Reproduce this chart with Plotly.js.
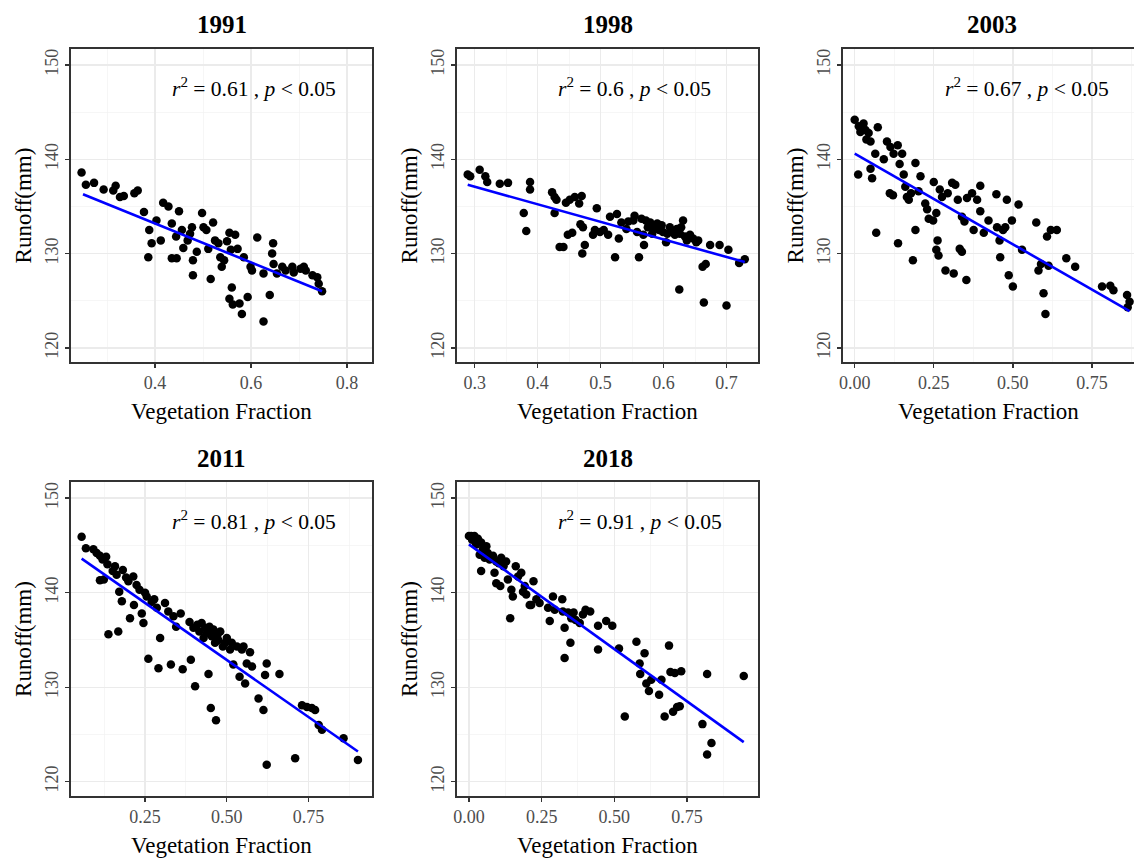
<!DOCTYPE html>
<html>
<head>
<meta charset="utf-8">
<script src="https://cdn.plot.ly/plotly-3.0.1.min.js"></script>
<style>html,body{margin:0;padding:0;background:#fff;}#chart{width:1134px;height:858px;}</style>
</head>
<body>
<div id="chart"></div>
<script>
// ---------- DATA ----------
const years = ['1991', '1998', '2003', '2011', '2018'];
const r2Values = ['0.61', '0.6', '0.67', '0.81', '0.91'];

const veg1991 = [0.247,0.256,0.273,0.293,0.313,0.318,0.327,0.335,0.357,0.364,
  0.377,0.388,0.386,0.393,0.403,0.412,0.417,0.428,0.435,0.435,
  0.445,0.450,0.444,0.456,0.459,0.468,0.473,0.477,0.479,0.479,
  0.487,0.498,0.501,0.507,0.511,0.516,0.521,0.525,0.532,0.536,
  0.539,0.544,0.550,0.555,0.558,0.560,0.555,0.562,0.567,0.572,
  0.576,0.581,0.585,0.593,0.599,0.602,0.613,0.626,0.626,0.639,
  0.644,0.646,0.647,0.654,0.665,0.672,0.686,0.689,0.703,0.710,
  0.714,0.728,0.738,0.741,0.748];
const runoff1991 = [138.6,137.3,137.5,136.8,136.7,137.2,136.0,136.1,136.4,136.7,
  134.4,132.5,129.6,131.1,133.5,131.4,135.4,135.0,133.2,129.5,
  129.5,134.5,131.8,132.5,130.6,131.4,132.1,132.8,129.3,127.7,
  130.2,134.3,132.8,132.5,130.5,127.3,133.3,131.4,131.1,129.6,
  128.6,129.3,131.3,132.2,130.4,126.4,125.2,124.6,132.0,130.5,
  124.7,123.6,129.6,125.4,128.6,128.2,131.7,127.9,122.8,125.6,
  130.0,131.1,128.9,127.9,128.6,128.2,128.6,128.0,128.4,128.6,
  128.2,127.7,127.5,126.8,126.0];

const veg1998 = [0.289,0.293,0.308,0.317,0.320,0.340,0.353,0.378,0.382,0.388,
  0.388,0.423,0.427,0.427,0.430,0.435,0.441,0.445,0.448,0.451,
  0.455,0.459,0.466,0.468,0.470,0.471,0.475,0.472,0.488,0.491,
  0.494,0.499,0.505,0.512,0.515,0.523,0.526,0.529,0.533,0.541,
  0.544,0.552,0.554,0.558,0.561,0.565,0.568,0.569,0.572,0.575,
  0.579,0.582,0.586,0.590,0.593,0.597,0.599,0.604,0.606,0.610,
  0.614,0.618,0.621,0.625,0.626,0.628,0.631,0.634,0.637,0.642,
  0.647,0.652,0.655,0.662,0.664,0.667,0.674,0.689,0.700,0.703,
  0.720,0.729];
const runoff1998 = [138.4,138.2,138.9,138.2,137.6,137.4,137.5,134.3,132.4,137.6,
  136.8,136.5,136.0,134.3,135.7,130.7,130.7,135.4,132.0,135.7,
  132.2,136.0,135.3,133.1,136.1,130.0,130.9,132.8,132.0,132.5,
  134.8,132.3,132.5,132.0,133.9,129.6,134.2,131.6,133.3,132.6,
  133.4,133.5,134.0,132.3,129.6,133.7,132.0,130.9,133.5,132.8,
  133.3,132.1,132.7,133.2,132.5,133.0,132.3,131.2,132.1,132.8,
  132.3,132.0,132.6,126.2,132.1,132.8,133.5,131.8,131.4,132.0,
  131.6,131.2,131.4,128.6,124.8,128.9,130.9,130.9,124.5,130.4,
  129.0,129.4];

const veg2003 = [0.000,0.013,0.018,0.028,0.034,0.044,0.037,0.050,0.073,0.065,
  0.011,0.050,0.055,0.068,0.092,0.102,0.113,0.111,0.121,0.123,
  0.136,0.142,0.137,0.150,0.155,0.160,0.165,0.171,0.178,0.184,
  0.192,0.192,0.202,0.208,0.223,0.229,0.234,0.248,0.250,0.258,
  0.258,0.262,0.265,0.269,0.276,0.287,0.294,0.308,0.313,0.318,
  0.326,0.332,0.339,0.339,0.347,0.353,0.355,0.371,0.376,0.387,
  0.397,0.397,0.408,0.423,0.448,0.450,0.458,0.460,0.469,0.476,
  0.481,0.487,0.497,0.500,0.518,0.529,0.574,0.581,0.589,0.597,
  0.603,0.608,0.613,0.620,0.639,0.669,0.697,0.782,0.808,0.818,
  0.861,0.869,0.863];
const runoff2003 = [144.2,143.5,142.9,143.8,143.1,142.8,142.1,141.9,143.4,140.6,
  138.4,139.0,138.0,132.2,140.0,141.9,141.3,136.4,136.2,140.6,
  141.5,139.5,131.1,140.6,138.4,137.1,136.0,135.7,136.4,129.3,
  139.6,132.5,136.6,138.2,135.3,134.7,133.7,133.5,137.6,134.3,
  130.4,131.4,129.8,136.8,136.0,128.2,136.4,137.5,127.9,137.3,
  135.7,130.5,130.2,133.9,133.4,127.2,135.9,136.4,132.5,135.7,
  137.2,134.5,132.2,133.5,136.3,132.8,131.4,129.6,132.5,132.8,
  135.7,127.7,133.5,126.5,135.2,130.4,133.3,128.2,128.9,125.8,
  123.6,131.8,128.7,132.5,132.5,129.5,128.6,126.5,126.6,126.1,
  125.6,124.9,124.3];

const veg2011 = [0.056,0.069,0.092,0.102,0.112,0.120,0.131,0.135,0.112,0.124,
  0.138,0.151,0.158,0.163,0.168,0.171,0.179,0.182,0.192,0.199,
  0.204,0.214,0.216,0.224,0.233,0.240,0.245,0.250,0.255,0.260,
  0.270,0.278,0.286,0.296,0.291,0.311,0.321,0.329,0.337,0.345,
  0.359,0.365,0.386,0.390,0.398,0.403,0.410,0.416,0.423,0.429,
  0.434,0.439,0.444,0.447,0.451,0.454,0.459,0.464,0.467,0.471,
  0.474,0.480,0.488,0.495,0.500,0.510,0.515,0.520,0.531,0.539,
  0.546,0.551,0.556,0.561,0.571,0.577,0.597,0.612,0.617,0.622,
  0.622,0.661,0.709,0.730,0.745,0.760,0.770,0.781,0.791,0.857,
  0.901];
const runoff2011 = [145.9,144.7,144.6,144.2,143.9,143.5,143.8,143.0,141.3,141.4,
  135.6,142.3,142.8,141.9,135.9,140.1,139.1,142.4,141.6,141.2,
  137.3,141.7,138.7,140.8,140.3,137.8,136.8,140.0,139.6,133.0,
  139.0,139.3,138.4,135.2,132.0,138.9,138.0,132.4,137.5,136.4,
  137.8,131.9,136.9,132.9,136.3,130.1,136.6,135.9,136.8,135.2,
  136.3,135.7,131.4,136.4,127.8,135.4,136.1,134.7,126.5,135.5,
  135.0,135.9,134.3,134.7,135.2,134.0,134.7,132.4,134.3,131.1,
  134.0,134.3,130.4,132.5,133.7,132.2,128.8,127.6,131.3,132.5,
  121.8,131.4,122.5,128.1,127.9,127.8,127.6,126.0,125.5,124.6,
  122.3];

const veg2018 = [0.000,0.008,0.019,0.011,0.031,0.025,0.042,0.037,0.048,0.060,
  0.054,0.065,0.071,0.042,0.083,0.094,0.088,0.103,0.111,0.119,
  0.094,0.108,0.128,0.134,0.142,0.146,0.151,0.161,0.169,0.180,
  0.186,0.192,0.197,0.209,0.214,0.222,0.232,0.243,0.272,0.278,
  0.289,0.295,0.321,0.323,0.329,0.329,0.341,0.349,0.352,0.360,
  0.367,0.381,0.392,0.401,0.417,0.444,0.444,0.472,0.493,0.516,
  0.536,0.576,0.587,0.589,0.604,0.610,0.619,0.627,0.654,0.662,
  0.673,0.688,0.693,0.702,0.708,0.716,0.725,0.730,0.803,0.819,
  0.819,0.834,0.945];
const runoff2018 = [146.0,146.0,146.0,145.6,145.7,145.1,145.3,144.0,144.6,144.9,
  143.7,144.2,143.5,142.3,143.9,143.3,142.1,143.1,143.7,142.8,
  141.0,140.7,143.3,141.4,137.3,140.3,139.6,142.8,141.7,142.1,
  140.1,140.7,139.8,138.7,138.7,141.2,139.3,138.9,138.4,137.0,
  139.6,138.2,139.3,138.0,136.3,133.1,137.9,134.7,137.3,137.9,
  137.1,136.8,137.7,138.2,138.0,136.5,134.0,137.0,136.5,134.1,
  126.9,134.8,132.5,131.4,133.6,130.4,129.6,130.8,129.2,130.8,
  126.9,134.4,131.6,127.4,131.5,127.9,128.0,131.7,126.1,131.4,
  122.9,124.1,131.2];

// fitted regression lines (end points)
const fitVeg1991 = [0.25, 0.748];   const fitRunoff1991 = [136.3, 126.0];
const fitVeg1998 = [0.289, 0.729];  const fitRunoff1998 = [137.3, 129.1];
const fitVeg2003 = [0.0, 0.869];    const fitRunoff2003 = [140.6, 123.9];
const fitVeg2011 = [0.056, 0.901];  const fitRunoff2011 = [143.6, 123.2];
const fitVeg2018 = [0.0, 0.945];    const fitRunoff2018 = [145.1, 124.2];

// tick labels
const xTickVals = [[0.4,0.6,0.8],[0.3,0.4,0.5,0.6,0.7],[0,0.25,0.5,0.75],[0.25,0.5,0.75],[0,0.25,0.5,0.75]];
const xTickText = [['0.4','0.6','0.8'],['0.3','0.4','0.5','0.6','0.7'],['0.00','0.25','0.50','0.75'],['0.25','0.50','0.75'],['0.00','0.25','0.50','0.75']];
const xMinorVals = [[0.3,0.5,0.7],[0.35,0.45,0.55,0.65],[0.125,0.375,0.625,0.875],[0.125,0.375,0.625,0.875],[0.125,0.375,0.625,0.875]];
const yTickVals = [120,130,140,150];
const yTickText = ['120','130','140','150'];
const yMinorVals = [125,135,145];
const xTitle = 'Vegetation Fraction';
const yTitle = 'Runoff(mm)';

// ---------- LAYOUT ----------
const W = 1134, H = 858;
const px = x => x / W;
const py = y => 1 - y / H;
const FONT = '"Liberation Serif", "Times New Roman", serif';

const vegs = [veg1991, veg1998, veg2003, veg2011, veg2018];
const runoffs = [runoff1991, runoff1998, runoff2003, runoff2011, runoff2018];
const fitVegs = [fitVeg1991, fitVeg1998, fitVeg2003, fitVeg2011, fitVeg2018];
const fitRunoffs = [fitRunoff1991, fitRunoff1998, fitRunoff2003, fitRunoff2011, fitRunoff2018];

// panel boxes in pixels: [left, top, right, bottom]
const boxes = [[71,49,372,362],[457,49,758,362],[843,49,1134,362],[71,482,372,796],[457,482,758,796]];
const xRanges = [[0.225,0.852],[0.272,0.750],[-0.037,0.883],[0.0235,0.944],[-0.041,0.994]];
const yRange = [118.5, 151.7];
const statPos = [[254,88],[634,88],[1027,88],[254,520],[640,520]];

const traces = [];
const layout = {
  width: W, height: H,
  margin: {l:0, r:0, t:0, b:0},
  paper_bgcolor: '#ffffff', plot_bgcolor: '#ffffff',
  showlegend: false,
  font: {family: FONT, color: '#000'},
  annotations: []
};

for (let i = 0; i < 5; i++) {
  const s = i === 0 ? '' : String(i + 1);
  const b = boxes[i];
  traces.push({
    x: vegs[i], y: runoffs[i], xaxis: 'x' + s, yaxis: 'y' + s,
    type: 'scatter', mode: 'markers',
    marker: {color: '#000000', size: 8.5},
    hoverinfo: 'x+y'
  });
  traces.push({
    x: fitVegs[i], y: fitRunoffs[i], xaxis: 'x' + s, yaxis: 'y' + s,
    type: 'scatter', mode: 'lines',
    line: {color: '#0000FF', width: 2.6}
  });
  const common = {
    showline: true, linecolor: '#333333', linewidth: 1.6,
    ticks: 'outside', ticklen: 4, tickwidth: 1.3, tickcolor: '#333333',
    showgrid: true, gridcolor: '#EBEBEB', gridwidth: 1.3,
    zeroline: false, fixedrange: true, automargin: false,
    tickfont: {family: FONT, size: 18, color: '#4D4D4D'}
  };
  layout['xaxis' + s] = Object.assign({}, common, {
    domain: [px(b[0]), px(b[2])], range: xRanges[i], anchor: 'y' + s,
    tickmode: 'array', tickvals: xTickVals[i], ticktext: xTickText[i],
    mirror: true,
    title: {text: xTitle, standoff: 10, font: {family: FONT, size: 23, color: '#000'}},
    minor: {tickmode: 'array', tickvals: xMinorVals[i], showgrid: true, gridcolor: '#F2F2F2', gridwidth: 0.7, ticks: ''}
  });
  layout['yaxis' + s] = Object.assign({}, common, {
    domain: [py(b[3]), py(b[1])], range: yRange, anchor: 'x' + s,
    tickmode: 'array', tickvals: yTickVals, ticktext: yTickText,
    tickangle: -90,
    mirror: i !== 2,
    title: {text: yTitle, standoff: 4, font: {family: FONT, size: 23, color: '#000'}},
    minor: {tickmode: 'array', tickvals: yMinorVals, showgrid: true, gridcolor: '#F2F2F2', gridwidth: 0.7, ticks: ''}
  });
  const pcx = i === 2 ? (b[0] + 1147) / 2 - 3 : (b[0] + b[2]) / 2;
  // panel title
  layout.annotations.push({
    text: '<b>' + years[i] + '</b>', xref: 'paper', yref: 'paper',
    x: px(pcx), y: py(b[1] - 24), xanchor: 'center', yanchor: 'middle',
    showarrow: false, font: {family: FONT, size: 25, color: '#000'}
  });
  // statistics label
  layout.annotations.push({
    text: '<i>r</i><sup>2</sup> = ' + r2Values[i] + '&nbsp;,&nbsp;<i>p</i> &lt; 0.05',
    xref: 'paper', yref: 'paper',
    x: px(statPos[i][0]), y: py(statPos[i][1]), xanchor: 'center', yanchor: 'middle',
    showarrow: false, font: {family: FONT, size: 21.5, color: '#000'}
  });
}

Plotly.newPlot('chart', traces, layout, {displayModeBar: false, staticPlot: true});
</script>
</body>
</html>
